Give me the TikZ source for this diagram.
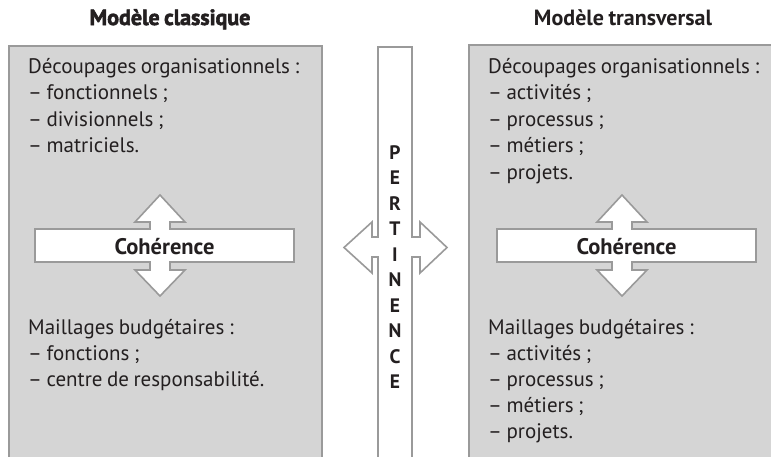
\documentclass[tikz,border=0pt]{standalone}
\usepackage{fontspec}
\setmainfont{PT Sans}[WordSpace=0.8]
\definecolor{boxfill}{HTML}{D5D5D5}
\definecolor{boxline}{HTML}{9A9A9A}
\definecolor{txt}{HTML}{231F20}
\tikzset{
  panel/.style={draw=boxline, fill=boxfill, line width=2pt},
  arrowshape/.style={draw=boxline, fill=white, line width=1.6pt, line join=miter},
  body/.style={font=\fontsize{21}{25}\selectfont, text=txt, anchor=base west, inner sep=0pt},
  title/.style={font=\fontsize{22}{26}\selectfont\bfseries, text=txt, anchor=base, inner sep=0pt},
  coh/.style={font=\fontsize{22.5}{26}\selectfont\bfseries, text=txt, anchor=base, inner sep=0pt},
  letter/.style={font=\fontsize{19.5}{22}\selectfont\bfseries, text=txt, anchor=base, inner sep=0pt}
}
\begin{document}
\begin{tikzpicture}[x=1pt, y=-1pt]
\useasboundingbox (0,0) rectangle (771,456);
\fill[white] (0,0) rectangle (771,456);
\begin{scope}
\clip (0,0) rectangle (771,456);
% panels
\draw[panel] (9,46) rectangle (322,480);
\draw[panel] (469,45) rectangle (790,480);
% pertinence bar with double arrow
\draw[arrowshape] (378,47) -- (412,47) -- (412,237) -- (420,237) -- (420,222) -- (447,247.5)
  -- (420,273) -- (420,257) -- (412,257) -- (412,480) -- (378,480) -- (378,257)
  -- (372,257) -- (372,273) -- (344,247.5) -- (372,222) -- (372,237) -- (378,237) -- cycle;
% coherence crosses
\foreach \dx/\nm in {0/L, 462/R}{
  \begin{scope}[xshift=\dx]
  \draw[arrowshape] (35,229) -- (150,229) -- (150,222) -- (135,222) -- (160,195) -- (185,222)
    -- (170,222) -- (170,229) -- (294,229) -- (294,262) -- (170,262) -- (170,270) -- (185,270)
    -- (160,296) -- (135,270) -- (150,270) -- (150,262) -- (35,262) -- cycle;
  \node[coh] (coh\nm) at (164.5,254) {Cohérence};
  \end{scope}
}
\end{scope}
% titles
\node[title, font=\fontsize{22}{26}\selectfont\bfseries\addfontfeature{FakeBold=2.5}] (t1) at (170,25) {Modèle classique};
\node[title] (t2) at (623,25) {Modèle transversal};
% pertinence letters
\foreach \c [count=\i] in {P,E,R,T,I,N,E,N,C,E}{
  \node[letter] (p\i) at (395,{159+25.5*(\i-1)}) {\c};
}
% left texts
\foreach \t [count=\i] in {Découpages organisationnels :, – fonctionnels ;, – divisionnels ;, – matriciels.}{
  \node[body] (lt\i) at (28,{73+26.5*(\i-1)}) {\t};
}
\foreach \t [count=\i] in {Maillages budgétaires :, – fonctions ;, – centre de responsabilité.}{
  \node[body] (lb\i) at (28,{334+26*(\i-1)}) {\t};
}
% right texts
\foreach \t [count=\i] in {Découpages organisationnels :, – activités ;, – processus ;, – métiers ;, – projets.}{
  \node[body] (rt\i) at (488,{73+26.5*(\i-1)}) {\t};
}
\foreach \t [count=\i] in {Maillages budgétaires :, – activités ;, – processus ;, – métiers ;, – projets.}{
  \node[body] (rb\i) at (488,{334+26*(\i-1)}) {\t};
}
\end{tikzpicture}
\end{document}
